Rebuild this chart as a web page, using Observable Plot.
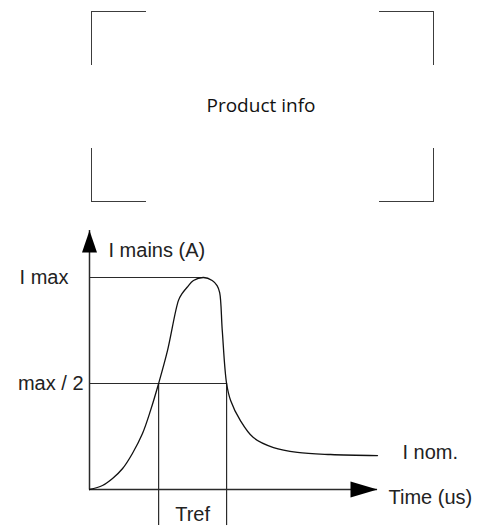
<!DOCTYPE html>
<html>
<head>
<meta charset="utf-8">
<script src="https://cdn.jsdelivr.net/npm/d3@7"></script>
<script src="https://cdn.jsdelivr.net/npm/@observablehq/plot@0.6"></script>
<style>
  body { margin: 0; background: #fff; }
  #info { position: relative; width: 485px; height: 215px; }
  .c { position: absolute; box-sizing: border-box; width: 55px; height: 54px; border: 0 solid #3c3c3c; }
  #label { position: absolute; left: 161px; width: 200px; top: 96px; text-align: center;
           font-family: "Open Sans", sans-serif; font-size: 19px; line-height: 19px; color: #111; }
  #chart svg { display: block; }
</style>
</head>
<body>
<div id="info">
  <div class="c" style="left:91px;top:11px;border-top-width:1.6px;border-left-width:1.6px"></div>
  <div class="c" style="left:379px;top:11px;border-top-width:1.6px;border-right-width:1.6px"></div>
  <div class="c" style="left:91px;top:148px;border-bottom-width:1.6px;border-left-width:1.6px"></div>
  <div class="c" style="left:379px;top:148px;border-bottom-width:1.6px;border-right-width:1.6px"></div>
  <div id="label">Product info</div>
</div>
<div id="chart"></div>
<script>
// Axes extents (normalised units: current relative to I max, time in arbitrary us)
const timeDomain = [0, 100];
const currentDomain = [0, 1.2217];

// Current waveform
const curveTime    = [0, 4.5, 8.0, 11.5, 14.9, 18.4, 21.2, 24.0, 27.1, 30.9, 32.2, 33.9, 36.1, 39.6, 42.6, 44.3, 45.2, 46.1, 47.6, 49.0, 52.4, 56.9, 63.9, 72.2, 83.7, 100];
const curveCurrent = [0, 0.019, 0.052, 0.099, 0.170, 0.264, 0.373, 0.500, 0.656, 0.892, 0.925, 0.954, 0.986, 1.000, 0.986, 0.962, 0.929, 0.750, 0.500, 0.420, 0.325, 0.245, 0.198, 0.175, 0.165, 0.160];

// Reference levels and times
const levelValues = [1.0, 0.5];
const levelLabels = ["I max", "max / 2"];
const levelEnds   = [39.6, 47.6];
const trefTimes   = [24.0, 47.6];
const trefBottom  = -0.17;
const iNom = 0.16;

const curve = curveTime.map((t, i) => ({t, c: curveCurrent[i]}));
const levels = levelValues.map((v, i) => ({v, label: levelLabels[i], end: levelEnds[i]}));

const arrowUp = { draw(ctx) { ctx.moveTo(0, 0); ctx.lineTo(7.5, 22); ctx.lineTo(-7.5, 22); ctx.closePath(); } };
const arrowRight = { draw(ctx) { ctx.moveTo(0, 0); ctx.lineTo(-27, -8); ctx.lineTo(-27, 8); ctx.closePath(); } };

const ink = "#2a2a2a";
const font = "Liberation Sans, Arial, sans-serif";

const chart = Plot.plot({
  width: 485,
  height: 313,
  marginLeft: 89,
  marginRight: 108,
  marginTop: 15,
  marginBottom: 39,
  x: {domain: timeDomain, axis: null},
  y: {domain: currentDomain, axis: null},
  style: {fontFamily: font, fontSize: "20px", color: ink, background: "#fff", overflow: "visible"},
  marks: [
    // axes
    Plot.ruleY([0], {x1: timeDomain[0], x2: timeDomain[1], stroke: ink, strokeWidth: 1.5}),
    Plot.ruleX([0], {y1: 0, y2: currentDomain[1], stroke: ink, strokeWidth: 1.5}),
    Plot.dot([{x: 0, y: currentDomain[1]}], {x: "x", y: "y", symbol: arrowUp, fill: "#000", stroke: null}),
    Plot.dot([{x: timeDomain[1], y: 0}], {x: "x", y: "y", symbol: arrowRight, fill: "#000", stroke: null}),
    // level lines
    Plot.ruleY(levels, {y: "v", x1: 0, x2: "end", stroke: ink, strokeWidth: 1.2}),
    // Tref lines
    Plot.ruleX(trefTimes, {x: d => d, y1: levelValues[1], y2: trefBottom, stroke: ink, strokeWidth: 1.2}),
    // waveform
    Plot.line(curve, {x: "t", y: "c", curve: "catmull-rom", stroke: "#111", strokeWidth: 1.3}),
    // labels
    Plot.text(levels, {x: 0, y: "v", text: "label", textAnchor: "end", fill: "#222"}),
    Plot.text(["I mains (A)"], {x: 0, y: currentDomain[1], text: d => d, textAnchor: "start", lineAnchor: "bottom", dx: 19, dy: 26, fill: "#222"}),
    Plot.text(["I nom."], {x: timeDomain[1], y: iNom, text: d => d, textAnchor: "start", dx: 25, dy: -3, fill: "#222"}),
    Plot.text(["Time (us)"], {x: timeDomain[1], y: 0, text: d => d, textAnchor: "start", dx: 11, dy: 8, fill: "#222"}),
    Plot.text(["Tref"], {x: (trefTimes[0] + trefTimes[1]) / 2, y: 0, text: d => d, textAnchor: "middle", lineAnchor: "bottom", dy: 31, fill: "#222"})
  ]
});

// shift the level labels individually (I max further left of the axis)
chart.querySelectorAll("g[aria-label=text]")[0]?.querySelectorAll("text").forEach((t, i) => {
  t.setAttribute("dx", i === 0 ? -21 : -6);
});

document.getElementById("chart").appendChild(chart);
</script>
</body>
</html>
